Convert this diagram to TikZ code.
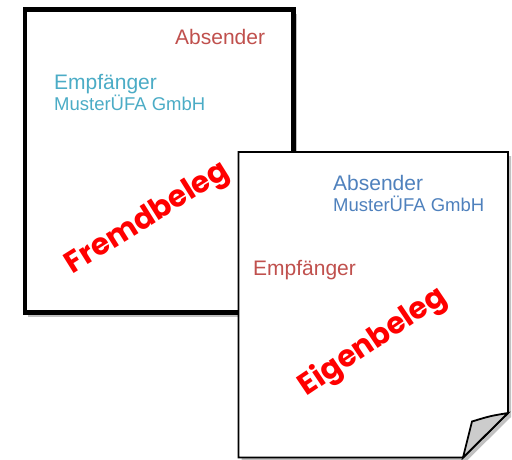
\documentclass[tikz,border=0pt]{standalone}
\usepackage{fontspec}
\setmainfont{Liberation Sans}
\newfontfamily\stampfont{Poppins}
\usetikzlibrary{shadows}
\definecolor{brick}{HTML}{C0504D}
\definecolor{aqua}{HTML}{4BACC6}
\definecolor{steel}{HTML}{4F81BD}
\definecolor{stampred}{HTML}{FF0000}
\begin{document}
\begin{tikzpicture}[x=1pt,y=-1pt,
        bigtext/.style={anchor=base west,inner sep=0pt,font=\fontsize{21}{25}\selectfont},
        smalltext/.style={anchor=base west,inner sep=0pt,font=\fontsize{18.5}{22}\selectfont},
        stamp/.style={text=stampred,inner sep=0pt,font=\stampfont\bfseries\fontsize{30}{36}\selectfont},
        shade/.style={drop shadow={shadow xshift=3pt,shadow yshift=-4pt,opacity=.35,fill=black!70}}]
        \useasboundingbox (0,0) rectangle (512,459);
        % fremdbeleg (back page)
        \draw[line width=4.5pt,fill=white,shade] (25,9.5) rectangle (293.5,312.5);
        \node[bigtext,text=brick] (abs1) at (175,44.5) {Absender};
        \node[bigtext,text=aqua] (emp1) at (54,89) {Empfänger};
        \node[smalltext,text=aqua] (firma1) at (54,110) {MusterÜFA GmbH};
        \node[stamp,rotate=32] (fremd) at (148,219) {Fremdbeleg};

        % eigenbeleg (front page, folded corner)
        \draw[line width=1.8pt,fill=white,line join=miter,shade]
        (238.5,152) -- (508,152) -- (508,413) -- (463,457.5) -- (238.5,457.5) -- cycle;
        \draw[line width=1.8pt,fill=black!20,line join=miter]
        (508,413) .. controls (490,416) .. (472,421.5) -- (463,457.5) -- cycle;
        \node[bigtext,text=steel] (abs2) at (333,190) {Absender};
        \node[smalltext,text=steel] (firma2) at (333,211.5) {MusterÜFA GmbH};
        \node[bigtext,text=brick] (emp2) at (253,275) {Empfänger};
        \node[stamp,rotate=34] (eigen) at (373,342) {Eigenbeleg};
\end{tikzpicture}
\end{document}
